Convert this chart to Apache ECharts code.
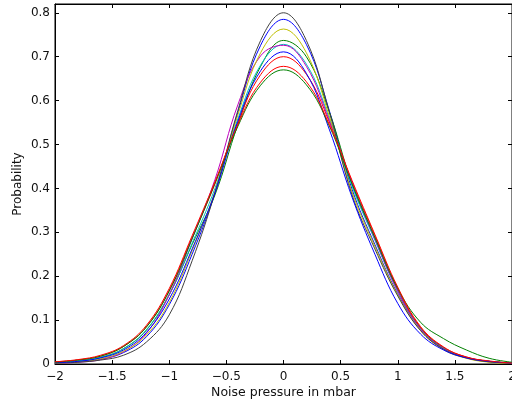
<!DOCTYPE html>
<html>
<head>
<meta charset="utf-8">
<script src="https://cdn.jsdelivr.net/npm/echarts@6/dist/echarts.min.js"></script>
<style>
  html, body { margin: 0; padding: 0; background: #fff; }
  #chart { width: 512px; height: 406px; }
</style>
</head>
<body>
<div id="chart"></div>
<script>
// noise pressure grid (mbar)
let xValues = [-2, -1.8, -1.6, -1.4, -1.2, -1, -0.8, -0.6, -0.4, -0.2, 0, 0.2, 0.4, 0.6, 0.8, 1, 1.2, 1.4, 1.6, 1.8, 2]

// estimated probability curves, in plotting order
let blue1   = [0.002, 0.005, 0.011, 0.026, 0.062, 0.135, 0.250, 0.390, 0.573, 0.726, 0.785, 0.728, 0.578, 0.398, 0.272, 0.160, 0.080, 0.036, 0.015, 0.006, 0.002]
let green1  = [0.003, 0.007, 0.015, 0.035, 0.077, 0.158, 0.272, 0.385, 0.545, 0.678, 0.737, 0.700, 0.575, 0.410, 0.285, 0.168, 0.082, 0.037, 0.015, 0.006, 0.002]
let red1    = [0.005, 0.009, 0.018, 0.040, 0.085, 0.168, 0.288, 0.410, 0.550, 0.659, 0.700, 0.660, 0.552, 0.415, 0.292, 0.172, 0.083, 0.038, 0.016, 0.006, 0.002]
let cyan    = [0.003, 0.007, 0.015, 0.035, 0.078, 0.158, 0.275, 0.400, 0.558, 0.681, 0.728, 0.683, 0.560, 0.405, 0.282, 0.166, 0.080, 0.036, 0.015, 0.006, 0.002]
let magenta = [0.002, 0.004, 0.010, 0.028, 0.070, 0.158, 0.285, 0.420, 0.590, 0.702, 0.726, 0.678, 0.555, 0.412, 0.285, 0.166, 0.079, 0.035, 0.014, 0.005, 0.002]
let yellow  = [0.002, 0.005, 0.012, 0.029, 0.066, 0.140, 0.258, 0.393, 0.567, 0.709, 0.763, 0.709, 0.565, 0.392, 0.268, 0.158, 0.076, 0.033, 0.013, 0.004, 0.001]
let black   = [0.002, 0.004, 0.009, 0.020, 0.050, 0.112, 0.235, 0.390, 0.577, 0.737, 0.800, 0.737, 0.575, 0.385, 0.262, 0.155, 0.076, 0.034, 0.014, 0.005, 0.002]
let blue2   = [0.003, 0.006, 0.014, 0.032, 0.072, 0.148, 0.262, 0.390, 0.553, 0.668, 0.711, 0.662, 0.535, 0.380, 0.250, 0.138, 0.068, 0.032, 0.014, 0.006, 0.002]
let green2  = [0.004, 0.009, 0.018, 0.040, 0.084, 0.166, 0.285, 0.412, 0.541, 0.635, 0.670, 0.636, 0.543, 0.410, 0.288, 0.172, 0.095, 0.058, 0.032, 0.013, 0.004]
let red2    = [0.005, 0.010, 0.020, 0.042, 0.088, 0.172, 0.292, 0.415, 0.545, 0.642, 0.678, 0.643, 0.546, 0.418, 0.295, 0.175, 0.085, 0.039, 0.016, 0.007, 0.002]

let curves = [blue1, green1, red1, cyan, magenta, yellow, black, blue2, green2, red2]
let colors = ['#0000ff', '#008000', '#ff0000', '#00bfbf', '#bf00bf', '#bfbf00', '#404040', '#0000ff', '#008000', '#ff0000']

let font = '"DejaVu Sans", "Liberation Sans", Arial, sans-serif'

let series = curves.map((ys, i) => ({
  type: 'line',
  xAxisIndex: 0,
  yAxisIndex: 0,
  smooth: 0.4,
  symbol: 'none',
  lineStyle: { color: colors[i], width: 1 },
  data: ys.map((y, j) => [xValues[j], y])
}))

// MATLAB style minus sign
function fmtX(v) {
  return v < 0 ? '\u2212' + Math.abs(v) : String(v)
}

let tickIn = { show: true, inside: true, length: 4, lineStyle: { color: '#000', width: 1 } }

let option = {
  animation: false,
  backgroundColor: '#fff',
  grid: {
    left: 55,
    right: 0,
    top: 4,
    bottom: 42,
    outerBoundsMode: 'none',
    containLabel: false,
    show: true,
    borderColor: '#000',
    borderWidth: 1
  },
  xAxis: [
    {
      type: 'value',
      min: -2,
      max: 2,
      interval: 0.5,
      name: 'Noise pressure in mbar',
      nameLocation: 'middle',
      nameGap: 22,
      nameMoveOverlap: false,
      nameTextStyle: { color: '#111', fontSize: 12.5, fontFamily: font },
      axisLine: { show: true, onZero: false, lineStyle: { color: '#000', width: 1 } },
      axisTick: tickIn,
      axisLabel: { color: '#111', fontSize: 12, fontFamily: font, margin: 7, formatter: fmtX, hideOverlap: false },
      splitLine: { show: false }
    },
    {
      type: 'value',
      position: 'top',
      min: -2,
      max: 2,
      interval: 0.5,
      axisLine: { show: true, onZero: false, lineStyle: { color: '#000', width: 1 } },
      axisTick: tickIn,
      axisLabel: { show: false },
      splitLine: { show: false }
    }
  ],
  yAxis: [
    {
      type: 'value',
      min: 0,
      max: 0.82,
      interval: 0.1,
      name: 'Probability',
      nameLocation: 'middle',
      nameGap: 31,
      nameMoveOverlap: false,
      nameTextStyle: { color: '#111', fontSize: 12, fontFamily: font },
      axisLine: { show: true, onZero: false, lineStyle: { color: '#000', width: 1 } },
      axisTick: tickIn,
      axisLabel: { color: '#111', fontSize: 12, fontFamily: font, margin: 5, showMaxLabel: false },
      splitLine: { show: false }
    },
    {
      type: 'value',
      position: 'right',
      min: 0,
      max: 0.82,
      interval: 0.1,
      axisLine: { show: true, onZero: false, lineStyle: { color: '#000', width: 1 } },
      axisTick: tickIn,
      axisLabel: { show: false },
      splitLine: { show: false }
    }
  ],
  series: series
}

let chart = echarts.init(document.getElementById('chart'), null, { renderer: 'canvas' })
chart.setOption(option)
</script>
</body>
</html>
